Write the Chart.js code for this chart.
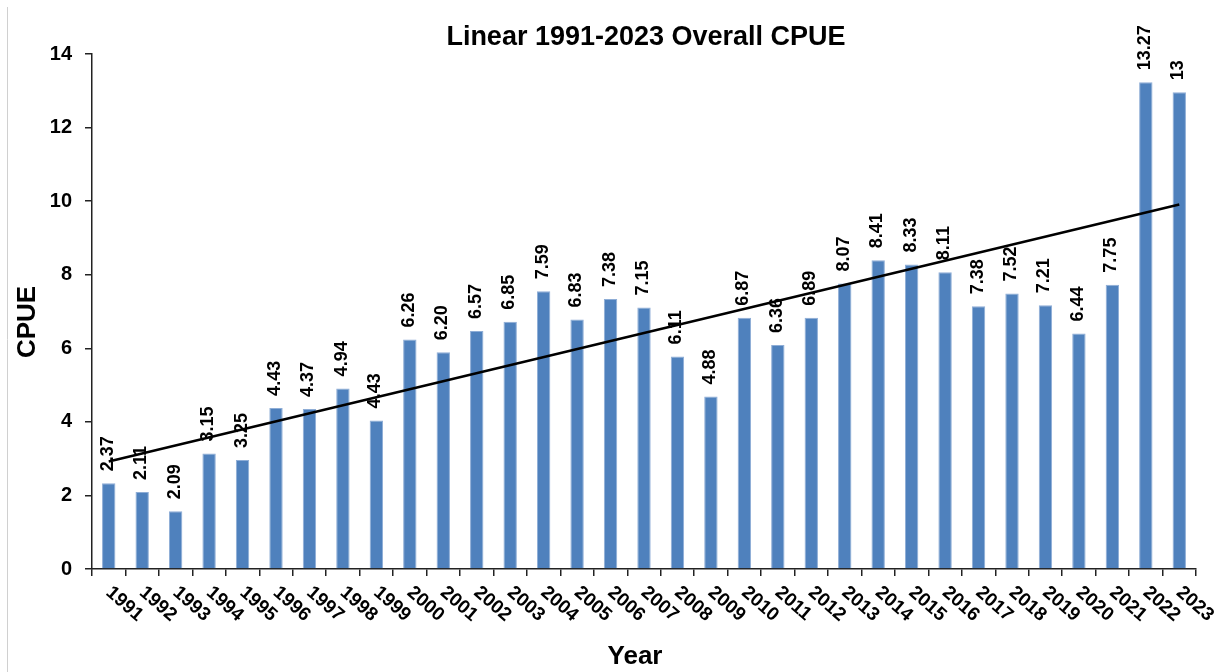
<!DOCTYPE html>
<html>
<head>
<meta charset="utf-8">
<title>Linear 1991-2023 Overall CPUE</title>
<script src="https://cdn.jsdelivr.net/npm/chart.js@4.4.1/dist/chart.umd.min.js"></script>
<style>
    html, body { margin: 0; padding: 0; background: #fff; }
    #wrap { width: 1229px; height: 672px; position: relative; }
</style>
</head>
<body>
<div id="wrap"><canvas id="myChart" width="1229" height="672"></canvas></div>
<script>
var years = ['1991', '1992', '1993', '1994', '1995', '1996', '1997', '1998', '1999', '2000', '2001',
    '2002', '2003', '2004', '2005', '2006', '2007', '2008', '2009', '2010', '2011', '2012',
    '2013', '2014', '2015', '2016', '2017', '2018', '2019', '2020', '2021', '2022', '2023'];

// bar heights as drawn
var cpue = [2.33, 2.09, 1.57, 3.14, 2.96, 4.38, 4.35, 4.91, 4.04, 6.24, 5.89,
    6.47, 6.72, 7.55, 6.78, 7.34, 7.11, 5.78, 4.69, 6.83, 6.09, 6.83,
    7.76, 8.39, 8.28, 8.07, 7.14, 7.49, 7.17, 6.40, 7.73, 13.23, 12.96];

// printed value labels
var cpueLabels = ['2.37', '2.11', '2.09', '3.15', '3.25', '4.43', '4.37', '4.94', '4.43', '6.26', '6.20',
    '6.57', '6.85', '7.59', '6.83', '7.38', '7.15', '6.11', '4.88', '6.87', '6.36', '6.89',
    '8.07', '8.41', '8.33', '8.11', '7.38', '7.52', '7.21', '6.44', '7.75', '13.27', '13'];

var yTicks = [0, 2, 4, 6, 8, 10, 12, 14];

// linear trend line end points
var trendStart = 2.92;
var trendEnd = 9.91;

var FONT = '"Liberation Sans", Arial, sans-serif';

var trendData = years.map(function (y, i) {
    if (i === 0) return trendStart;
    if (i === years.length - 1) return trendEnd;
    return null;
});

var textPlugin = {
    id: 'textPlugin',
    afterDatasetsDraw: function (chart) {
        var ctx = chart.ctx;
        var xScale = chart.scales.x;
        var meta = chart.getDatasetMeta(0);

        ctx.save();
        ctx.fillStyle = '#000';

        // value labels, vertical
        ctx.font = 'bold 18px ' + FONT;
        ctx.textAlign = 'left';
        ctx.textBaseline = 'middle';
        meta.data.forEach(function (bar, i) {
            ctx.save();
            ctx.translate(bar.x - 1, bar.y - 12);
            ctx.rotate(-Math.PI / 2);
            ctx.fillText(cpueLabels[i], 0, 0);
            ctx.restore();
        });

        // x tick labels, turned clockwise
        ctx.font = 'bold 19px ' + FONT;
        ctx.textBaseline = 'top';
        years.forEach(function (label, i) {
            var x = xScale.getPixelForValue(i);
            ctx.save();
            ctx.translate(x + 6, 583);
            ctx.rotate(41 * Math.PI / 180);
            ctx.fillText(label, 0, 0);
            ctx.restore();
        });

        // titles
        ctx.textAlign = 'center';
        ctx.textBaseline = 'middle';
        ctx.font = 'bold 27px ' + FONT;
        ctx.fillText('Linear 1991-2023 Overall CPUE', 646, 38);
        ctx.font = 'bold 26px ' + FONT;
        ctx.fillText('Year', 635, 657);
        ctx.save();
        ctx.translate(28, 322);
        ctx.rotate(-Math.PI / 2);
        ctx.fillText('CPUE', 0, 0);
        ctx.restore();

        // left frame line
        ctx.strokeStyle = '#d0d0d0';
        ctx.lineWidth = 1;
        ctx.beginPath();
        ctx.moveTo(7.5, 7);
        ctx.lineTo(7.5, 672);
        ctx.stroke();

        ctx.restore();
    }
};

var ctx = document.getElementById('myChart').getContext('2d');
new Chart(ctx, {
    data: {
        labels: years,
        datasets: [
            {
                type: 'bar',
                label: 'CPUE',
                data: cpue,
                backgroundColor: '#4F81BD',
                borderColor: '#8EADD6',
                borderWidth: 1,
                barPercentage: 0.4,
                categoryPercentage: 1.0,
                order: 2
            },
            {
                type: 'line',
                label: 'Linear',
                data: trendData,
                borderColor: '#000',
                borderWidth: 2.5,
                pointRadius: 0,
                spanGaps: true,
                fill: false,
                order: 1
            }
        ]
    },
    options: {
        responsive: false,
        animation: false,
        layout: {
            padding: { top: 54, right: 33, left: 0, bottom: 0 }
        },
        plugins: {
            legend: { display: false },
            title: { display: false },
            tooltip: { enabled: false }
        },
        scales: {
            x: {
                offset: true,
                grid: {
                    offset: true,
                    drawOnChartArea: false,
                    drawTicks: true,
                    tickLength: 7,
                    color: '#222',
                    lineWidth: 1.5
                },
                border: { color: '#222', width: 1.5 },
                ticks: { display: false },
                afterFit: function (scale) {
                    scale.height = 103;
                }
            },
            y: {
                min: 0,
                max: 14,
                afterBuildTicks: function (scale) {
                    scale.ticks = yTicks.map(function (v) { return { value: v }; });
                },
                grid: {
                    drawOnChartArea: false,
                    drawTicks: true,
                    tickLength: 7,
                    color: '#222',
                    lineWidth: 1.5
                },
                border: { color: '#222', width: 1.5 },
                ticks: {
                    color: '#000',
                    padding: 13,
                    font: { family: FONT, size: 20, weight: 'bold' }
                },
                afterFit: function (scale) {
                    scale.width = 92;
                }
            }
        }
    },
    plugins: [textPlugin]
});
</script>
</body>
</html>
